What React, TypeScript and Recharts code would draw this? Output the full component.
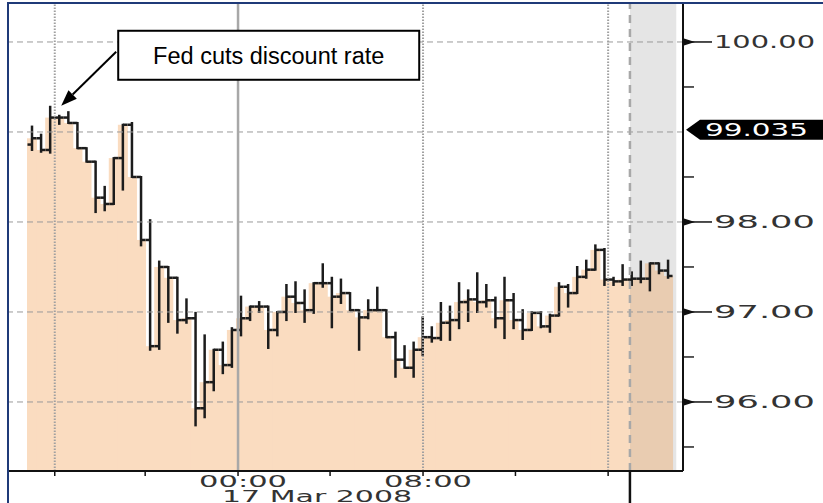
import React from 'react';
import { ComposedChart, Bar, XAxis, YAxis, ReferenceLine, ReferenceArea, ReferenceDot } from 'recharts';

// OHLC bars
const opens = [98.86, 98.93, 98.80, 99.16, 99.16, 99.10, 98.82, 98.67, 98.27, 98.20, 98.71, 99.08, 98.50, 97.80, 96.62, 97.50, 97.38, 96.91, 96.93, 95.93, 96.22, 96.58, 96.41, 96.80, 96.93, 97.06, 97.06, 96.80, 97.00, 97.17, 97.10, 97.02, 97.32, 97.32, 97.17, 97.21, 97.02, 96.94, 97.02, 97.02, 96.72, 96.47, 96.38, 96.58, 96.72, 96.71, 96.88, 96.91, 97.11, 97.14, 97.11, 97.13, 96.93, 97.13, 96.91, 96.80, 96.99, 96.84, 96.96, 97.28, 97.21, 97.39, 97.47, 97.69, 97.36, 97.34, 97.36, 97.37, 97.37, 97.54, 97.46];
const highs = [99.06, 98.97, 99.28, 99.18, 99.22, 99.10, 98.82, 98.67, 98.39, 98.71, 99.08, 99.10, 98.50, 98.02, 97.56, 97.50, 97.38, 97.14, 96.99, 96.74, 96.58, 96.66, 96.82, 97.17, 97.06, 97.11, 97.06, 97.00, 97.30, 97.33, 97.24, 97.32, 97.53, 97.38, 97.36, 97.21, 97.02, 97.13, 97.27, 97.02, 96.77, 96.62, 96.66, 96.94, 96.83, 97.10, 97.06, 97.32, 97.24, 97.43, 97.30, 97.16, 97.38, 97.20, 97.02, 97.00, 97.00, 96.97, 97.32, 97.30, 97.50, 97.57, 97.74, 97.70, 97.38, 97.52, 97.44, 97.56, 97.54, 97.54, 97.57];
const lows = [98.80, 98.78, 98.77, 99.09, 99.10, 98.82, 98.67, 98.11, 98.13, 98.20, 98.36, 98.50, 97.74, 96.58, 96.59, 96.89, 96.77, 96.88, 95.74, 95.83, 96.13, 96.32, 96.39, 96.74, 96.91, 97.00, 96.60, 96.74, 96.91, 97.00, 96.89, 96.99, 97.28, 96.83, 97.10, 97.02, 96.58, 96.93, 97.02, 96.72, 96.28, 96.38, 96.28, 96.52, 96.67, 96.69, 96.69, 96.82, 96.90, 97.00, 97.06, 96.83, 96.71, 96.82, 96.70, 96.80, 96.83, 96.78, 96.96, 97.06, 97.21, 97.38, 97.47, 97.30, 97.30, 97.30, 97.30, 97.33, 97.24, 97.43, 97.38];
const closes = [98.93, 98.80, 99.16, 99.16, 99.10, 98.82, 98.67, 98.27, 98.20, 98.71, 99.08, 98.50, 97.80, 96.62, 97.50, 97.38, 96.91, 96.93, 95.93, 96.22, 96.58, 96.41, 96.80, 96.93, 97.06, 97.06, 96.80, 97.00, 97.17, 97.10, 97.02, 97.32, 97.32, 97.17, 97.21, 97.02, 96.94, 97.02, 97.02, 96.72, 96.47, 96.38, 96.58, 96.72, 96.71, 96.88, 96.91, 97.11, 97.14, 97.11, 97.13, 96.93, 97.13, 96.91, 96.80, 96.99, 96.84, 96.96, 97.28, 97.21, 97.39, 97.47, 97.69, 97.36, 97.34, 97.36, 97.37, 97.37, 97.54, 97.46, 97.40];

// time ticks, placed in bar units (every 4 hours; 00:00 = 17 Mar 2008)
const timeTicks = [2.5, 12.45, 22.67, 32.8, 43.03, 53.2, 63.4];
const timeLabels = ['', '', '00:00', '', '08:00', '', ''];
const dateLabel = '17 Mar 2008';
const nowPos = 65.8;
const shadeEnd = 70.9;
const dottedTicks = [2.5, 43.03, 63.4];
const midnightTick = 22.67;
const xDomain = [-2.646, 71.64];

const priceTicks = [95.5, 96, 96.5, 97, 97.5, 98, 98.5, 99.5, 100];
const gridValues = [96, 97, 98, 99, 100];
const lastPrice = 99.035;
const eventIndex = 2;
const eventText = 'Fed cuts discount rate';

const PEACH = '#fadcc0';
const PEACH_SHADED = '#e9ccb1';

const data = opens.map((o, i) => ({
  i,
  open: o,
  high: highs[i],
  low: lows[i],
  close: closes[i],
  range: [lows[i], highs[i]],
}));

// area under the closes; the part past the "now" line gets the grey tint
const FillShape = (p: any) => {
  const { x, y, width, height, payload } = p;
  const left = x - 0.5;
  const right = x + width + 0.5;
  const cut = x + width / 2 + (nowPos - payload.i) * width;
  if (cut >= right) return <rect x={left} y={y} width={right - left} height={height} fill={PEACH} />;
  const c = Math.max(left, cut);
  return (
    <g>
      {c > left ? <rect x={left} y={y} width={c - left} height={height} fill={PEACH} /> : null}
      <rect x={c} y={y} width={right - c} height={height} fill={PEACH_SHADED} />
    </g>
  );
};

const OhlcShape = (p: any) => {
  const { x, y, width, height, payload } = p;
  const top = Math.min(y, y + height);
  const bot = Math.max(y, y + height);
  const span = payload.high - payload.low || 1;
  const yOpen = top + ((payload.high - payload.open) / span) * (bot - top);
  const yClose = top + ((payload.high - payload.close) / span) * (bot - top);
  const cx = x + width / 2;
  const half = width / 2;
  return (
    <g stroke="#1c1c1c" strokeWidth={2.5} fill="none">
      <line x1={cx} x2={cx} y1={top - 1} y2={bot + 1} />
      <line x1={cx - half} x2={cx} y1={yOpen} y2={yOpen} />
      <line x1={cx} x2={cx + half} y1={yClose} y2={yClose} />
    </g>
  );
};

const YTick = (p: any) => {
  const { x, y, payload } = p;
  const v = payload.value;
  const ax = x + 1;
  const major = Math.abs(v - Math.round(v)) < 0.01;
  if (!major) {
    return <line x1={ax} x2={ax + 10} y1={y} y2={y} stroke="#222" strokeWidth={1.5} />;
  }
  return (
    <g>
      <polygon points={`${ax},${y - 3.5} ${ax + 11},${y} ${ax},${y + 3.5}`} fill="#111" />
      <line x1={ax} x2={ax + 28} y1={y} y2={y} stroke="#111" strokeWidth={1.5} />
      <text x={ax + 30} y={y} dy="0.36em" fontFamily="DejaVu Sans" fontSize={18} fill="#333"
        textLength={101} lengthAdjust="spacingAndGlyphs">{v.toFixed(2)}</text>
    </g>
  );
};

const XTick = (p: any) => {
  const { x, y, payload } = p;
  const v = payload.value;
  if (Math.abs(v - nowPos) < 0.001) {
    return <line x1={x} x2={x} y1={y} y2={y + 40} stroke="#111" strokeWidth={2.5} />;
  }
  const k = timeTicks.indexOf(v);
  return (
    <g>
      <line x1={x} x2={x} y1={y} y2={y + 5} stroke="#111" strokeWidth={1.5} />
      {timeLabels[k] ? (
        <text x={x + 5} y={y + 16} textAnchor="middle" fontFamily="DejaVu Sans" fontSize={15} fill="#333"
          textLength={88} lengthAdjust="spacingAndGlyphs">{timeLabels[k]}</text>
      ) : null}
      {v === midnightTick ? (
        <text x={x - 16} y={y + 31} fontFamily="DejaVu Sans" fontSize={15} fill="#333"
          textLength={190} lengthAdjust="spacingAndGlyphs">{dateLabel}</text>
      ) : null}
    </g>
  );
};

const LastPriceLabel = (p: any) => {
  const { viewBox } = p;
  const ax = viewBox.x + viewBox.width;
  const cy = viewBox.y + 1;
  return (
    <g>
      <path d={`M${ax + 3},${cy} L${ax + 17},${cy - 10} L823,${cy - 10} L823,${cy + 10} L${ax + 17},${cy + 10} Z`} fill="#000" />
      <text x={ax + 22} y={cy} dy="0.36em" fontFamily="DejaVu Sans" fontSize={18} fill="#fff"
        textLength={103} lengthAdjust="spacingAndGlyphs">{lastPrice}</text>
    </g>
  );
};

const Annotation = (p: any) => {
  const { cx, cy } = p;
  const tipX = cx + 11;
  const tipY = cy - 1;
  const sx = cx + 66;
  const sy = cy - 55;
  const dx = tipX - sx;
  const dy = tipY - sy;
  const len = Math.hypot(dx, dy);
  const ux = dx / len;
  const uy = dy / len;
  const bx = tipX - ux * 16;
  const by = tipY - uy * 16;
  const boxX = cx + 68;
  const boxY = cy - 76;
  return (
    <g>
      <line x1={sx} y1={sy} x2={bx} y2={by} stroke="#000" strokeWidth={2} />
      <polygon points={`${tipX},${tipY} ${bx - uy * 6},${by + ux * 6} ${bx + uy * 6},${by - ux * 6}`} fill="#000" />
      <rect x={boxX} y={boxY} width={301} height={49} fill="#fff" stroke="#000" strokeWidth={2} />
      <text x={boxX + 150.5} y={boxY + 33} textAnchor="middle" fontFamily="Liberation Sans, Arial" fontSize={23.5} fill="#000">
        {eventText}
      </text>
    </g>
  );
};

export default function App() {
  return (
    <div style={{ position: 'absolute', left: 0, top: 0, width: 823, height: 503, background: '#fff' }}>
      <ComposedChart width={823} height={503} data={data} barCategoryGap={0} barGap={0}
        margin={{ top: 3, right: 0, bottom: 0, left: 8 }}>
        <XAxis xAxisId="main" dataKey="i" type="number" domain={xDomain} allowDataOverflow
          ticks={[...timeTicks, nowPos]} interval={0} height={32} tickSize={0} tickMargin={0}
          axisLine={{ stroke: '#111', strokeWidth: 2 }} tickLine={false} tick={<XTick />} />
        <XAxis xAxisId="fill" dataKey="i" type="number" domain={xDomain} allowDataOverflow hide height={0} />
        <XAxis xAxisId="ohlc" dataKey="i" type="number" domain={xDomain} allowDataOverflow hide height={0} />
        <YAxis orientation="right" domain={[95.233, 100.433]} allowDataOverflow ticks={priceTicks}
          interval={0} width={140} tickSize={0} tickMargin={0} tickLine={false}
          axisLine={{ stroke: '#111', strokeWidth: 2 }} tick={<YTick />} />

        <ReferenceArea xAxisId="main" x1={nowPos} x2={shadeEnd} fill="#000" fillOpacity={0.1} stroke="none" />
        <Bar xAxisId="fill" dataKey="close" shape={<FillShape />} isAnimationActive={false} />

        {gridValues.map((v) => (
          <ReferenceLine key={'g' + v} xAxisId="main" y={v} stroke="#9a9a9a" strokeDasharray="6 4" strokeWidth={1} />
        ))}
        {dottedTicks.map((t) => (
          <ReferenceLine key={'d' + t} xAxisId="main" x={t} stroke="#a0a0a0" strokeDasharray="1.5 1.5" strokeWidth={2} />
        ))}
        <ReferenceLine xAxisId="main" x={midnightTick} stroke="#a8a8a8" strokeWidth={2.5} />
        <ReferenceLine xAxisId="main" x={nowPos} stroke="#a8a8a8" strokeDasharray="8 6" strokeWidth={2.5} />

        <Bar xAxisId="ohlc" dataKey="range" shape={<OhlcShape />} isAnimationActive={false} />

        <ReferenceLine xAxisId="main" y={lastPrice} stroke="none" label={<LastPriceLabel />} />
        <ReferenceDot xAxisId="ohlc" x={eventIndex} y={highs[eventIndex]} r={0}
          shape={(p: any) => <Annotation cx={p.cx} cy={p.cy} />} />
      </ComposedChart>
      <div style={{ position: 'absolute', left: 7, top: 2, width: 816, height: 501, borderTop: '2px solid #1f3a78', borderLeft: '2px solid #1f3a78', pointerEvents: 'none' }} />
    </div>
  );
}
